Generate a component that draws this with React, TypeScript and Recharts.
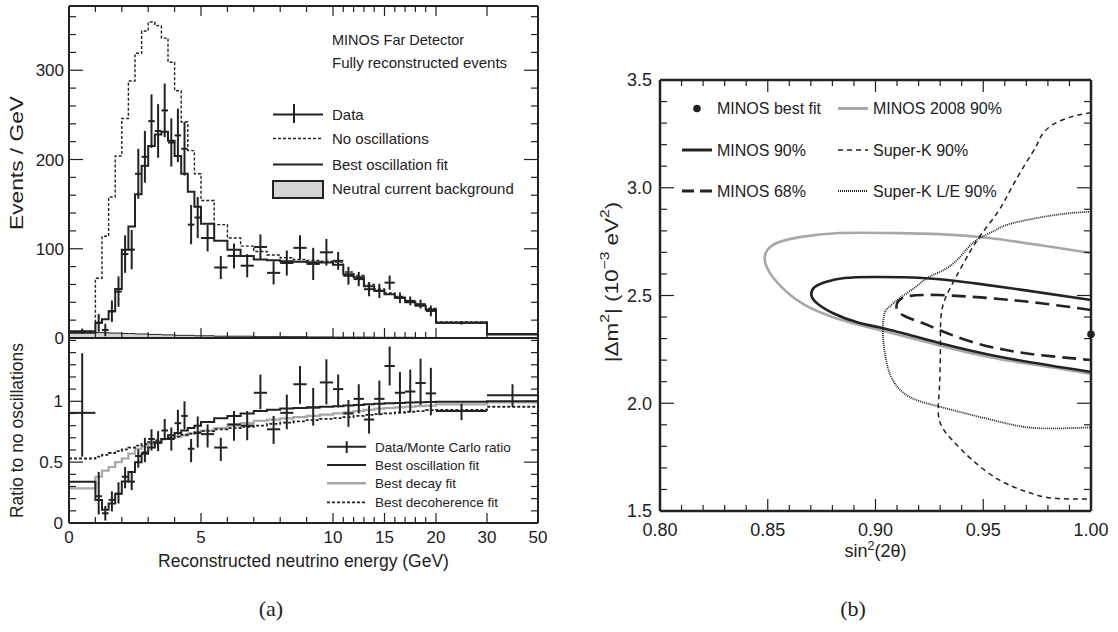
import React from 'react';
import { ComposedChart, Line, Area, Scatter, XAxis, YAxis, ErrorBar, Legend, Label } from 'recharts';

const INK = '#222';
const GREY = '#a8a8a8';
const SANS = '"Liberation Sans", Arial, Helvetica, sans-serif';
const SERIF = '"Liberation Serif", "DejaVu Serif", serif';

// ---------- (a) MINOS far detector spectrum ----------
// bin edges in GeV
const binEdges = [0, 1, 1.25, 1.5, 1.75, 2, 2.25, 2.5, 2.75, 3, 3.25, 3.5, 3.75, 4, 4.25, 4.5, 4.75, 5, 5.5, 6, 6.5, 7, 7.5, 8, 8.5, 9, 9.5, 10, 11, 12, 13, 14, 15, 16, 17, 18, 19, 20, 30, 50];

// events / GeV, one value per bin
const noOscRate = [7.5, 67, 114, 158, 204, 246, 288, 319, 344, 354, 350, 336, 309, 277, 242, 210, 184, 154, 127, 112, 103, 97, 93, 90, 88, 87, 86, 85, 74, 70, 60, 55, 50.5, 46.5, 41, 37.5, 33, 18, 4.5];
const bestFitRate = [6, 17, 21, 30, 55, 99, 125, 161, 193, 215, 228, 231, 221, 204, 184, 164, 147, 128, 109, 99, 92, 88, 87, 86, 85.5, 85, 84.5, 82, 71.5, 68, 58, 53, 49, 45, 40, 36, 32, 17, 4];
const ncRate = [7, 6, 6, 5.5, 5.5, 5, 5, 4.5, 4.5, 4, 4, 3.5, 3.5, 3, 3, 3, 2.5, 2.5, 2, 2, 2, 1.5, 1.5, 1.5, 1.5, 1.2, 1.2, 1, 1, 1, 1, 0.8, 0.8, 0.8, 0.8, 0.6, 0.6, 0.5, 0.3];
const dataRate = [7.5, 17, 9, 30, 52, 94, 99, 184, 203, 243, 232, 255, 219, 227, 212, 127, 135, 112, 79, 92, 81, 102, 73, 84, 101, 83, 96, 86.5, 69.7, 66, 54.7, 52.8, 62, 45, 41.6, 37.9, 30.3, 17, 4.5];
const dataRateErr = [3, 10, 7, 12, 17, 21, 22, 28, 29, 30, 30, 30, 27, 30, 30, 22, 23, 15, 13, 14, 13, 14, 13, 14, 14, 18, 15, 10, 10, 8, 8, 8, 8, 6, 5, 5, 6, 2, 1];

// ratio to no oscillations, one value per bin
const ratioData = [0.905, 0.22, 0.08, 0.19, 0.24, 0.38, 0.34, 0.55, 0.58, 0.69, 0.66, 0.76, 0.69, 0.82, 0.88, 0.61, 0.74, 0.73, 0.62, 0.81, 0.8, 1.07, 0.77, 0.905, 1.14, 0.95, 1.155, 1.1, 0.9, 1.02, 0.85, 1.02, 1.29, 1.07, 1.08, 1.15, 1.065, 0.92, 1.05];
const ratioErrLo = [0.36, 0.15, 0.06, 0.095, 0.08, 0.095, 0.07, 0.095, 0.08, 0.095, 0.07, 0.08, 0.095, 0.095, 0.11, 0.11, 0.12, 0.11, 0.11, 0.135, 0.12, 0.135, 0.12, 0.135, 0.16, 0.15, 0.18, 0.15, 0.11, 0.12, 0.115, 0.135, 0.16, 0.17, 0.17, 0.18, 0.18, 0.075, 0.095];
const ratioErrHi = [0.49, 0.2, 0.06, 0.07, 0.095, 0.08, 0.08, 0.055, 0.12, 0.08, 0.095, 0.095, 0.095, 0.11, 0.12, 0.08, 0.135, 0.08, 0.08, 0.11, 0.12, 0.15, 0.11, 0.15, 0.15, 0.16, 0.19, 0.12, 0.11, 0.12, 0.115, 0.15, 0.16, 0.17, 0.18, 0.2, 0.21, 0.06, 0.09];
const oscRatio = [0.338, 0.19, 0.108, 0.16, 0.24, 0.34, 0.42, 0.5, 0.57, 0.62, 0.66, 0.69, 0.72, 0.74, 0.76, 0.78, 0.8, 0.83, 0.86, 0.88, 0.9, 0.92, 0.93, 0.94, 0.945, 0.95, 0.955, 0.96, 0.965, 0.97, 0.975, 0.98, 0.983, 0.986, 0.99, 0.992, 0.995, 0.997, 1.0];
const decayRatio = [0.284, 0.38, 0.43, 0.46, 0.5, 0.53, 0.57, 0.61, 0.63, 0.65, 0.67, 0.69, 0.7, 0.71, 0.72, 0.735, 0.745, 0.76, 0.78, 0.8, 0.82, 0.84, 0.85, 0.86, 0.87, 0.88, 0.89, 0.9, 0.91, 0.92, 0.93, 0.94, 0.945, 0.95, 0.955, 0.96, 0.965, 0.975, 0.99];
const decoRatio = [0.53, 0.545, 0.56, 0.575, 0.59, 0.605, 0.62, 0.635, 0.65, 0.665, 0.68, 0.69, 0.7, 0.71, 0.725, 0.735, 0.745, 0.755, 0.77, 0.78, 0.79, 0.8, 0.815, 0.825, 0.835, 0.845, 0.855, 0.862, 0.87, 0.88, 0.888, 0.895, 0.9, 0.908, 0.914, 0.92, 0.927, 0.93, 0.955];

const eTicks = [0, 5, 10, 15, 20, 30, 50];
const eMinor = [1, 2, 3, 4, 6, 7, 8, 9, 11, 12, 13, 14, 16, 17, 18, 19];
const rateTicks = [0, 100, 200, 300];
const rateMinor = [20, 40, 60, 80, 120, 140, 160, 180, 220, 240, 260, 280, 320, 340, 360];
const ratioTicks = [0, 0.5, 1];
const ratioMinor = [0.1, 0.2, 0.3, 0.4, 0.6, 0.7, 0.8, 0.9, 1.1, 1.2, 1.3, 1.4, 1.5];

// ---------- (b) allowed regions ----------
const sinTicks = [0.8, 0.85, 0.9, 0.95, 1.0];
const sinMinor = [0.81, 0.82, 0.83, 0.84, 0.86, 0.87, 0.88, 0.89, 0.91, 0.92, 0.93, 0.94, 0.96, 0.97, 0.98, 0.99];
const dmTicks = [1.5, 2.0, 2.5, 3.0, 3.5];
const dmMinor = [1.6, 1.7, 1.8, 1.9, 2.1, 2.2, 2.3, 2.4, 2.6, 2.7, 2.8, 2.9, 3.1, 3.2, 3.3, 3.4];

// [sin^2(2theta), |dm^2| in 1e-3 eV^2]
const minos2008 = [[1.0, 2.697], [0.9759, 2.734], [0.9528, 2.767], [0.9296, 2.785], [0.9065, 2.79], [0.8833, 2.79], [0.8648, 2.771], [0.8523, 2.734], [0.8486, 2.665], [0.8523, 2.586], [0.8588, 2.516], [0.8671, 2.456], [0.8787, 2.405], [0.8926, 2.363], [0.9111, 2.317], [0.9343, 2.256], [0.9574, 2.205], [0.9806, 2.168], [1.0, 2.136]];
const minos90 = [[1.0, 2.479], [0.9681, 2.526], [0.9449, 2.558], [0.9218, 2.581], [0.8986, 2.586], [0.8856, 2.581], [0.8772, 2.564], [0.8718, 2.539], [0.8702, 2.51], [0.8718, 2.474], [0.8801, 2.419], [0.8926, 2.372], [0.9032, 2.349], [0.9296, 2.28], [0.9606, 2.21], [1.0, 2.145]];
const minos68 = [[1.0, 2.433], [0.9759, 2.465], [0.9528, 2.488], [0.9296, 2.502], [0.9157, 2.498], [0.9111, 2.479], [0.9097, 2.451], [0.9125, 2.41], [0.9218, 2.372], [0.9296, 2.34], [0.9449, 2.284], [0.9606, 2.247], [0.9759, 2.224], [1.0, 2.201]];
const superK90 = [[1.0, 3.348], [0.9912, 3.33], [0.9819, 3.291], [0.9767, 3.237], [0.9744, 3.19], [0.9698, 3.115], [0.9634, 3.005], [0.9574, 2.897], [0.9495, 2.79], [0.9435, 2.697], [0.9374, 2.587], [0.9327, 2.494], [0.9304, 2.402], [0.9301, 2.247], [0.9296, 2.061], [0.9296, 1.922], [0.9356, 1.829], [0.9449, 1.737], [0.9574, 1.644], [0.9699, 1.59], [0.9819, 1.56], [1.0, 1.556]];
const superKLE = [[1.0, 2.889], [0.9836, 2.874], [0.9634, 2.835], [0.9559, 2.804], [0.9481, 2.765], [0.942, 2.711], [0.9343, 2.634], [0.925, 2.587], [0.9188, 2.541], [0.9111, 2.487], [0.9065, 2.448], [0.9042, 2.417], [0.9034, 2.324], [0.9049, 2.201], [0.908, 2.108], [0.9157, 2.03], [0.9296, 1.984], [0.945, 1.945], [0.9605, 1.907], [0.9759, 1.884], [1.0, 1.888]];
const bestFit = [[1.0, 2.32]];

// energy axis is stretched piecewise (0-10, 10-20, 20-30, 30-50 GeV)
const E_KNOTS = [0, 10, 20, 30, 50];
const U_KNOTS = [0, 264, 367, 418, 469];
const toU = (e: number) => {
  for (let k = 1; k < E_KNOTS.length; k++) {
    if (e <= E_KNOTS[k]) {
      const t = (e - E_KNOTS[k - 1]) / (E_KNOTS[k] - E_KNOTS[k - 1]);
      return U_KNOTS[k - 1] + t * (U_KNOTS[k] - U_KNOTS[k - 1]);
    }
  }
  return U_KNOTS[U_KNOTS.length - 1];
};
const uTicks = eTicks.map(toU);
const eLabel = (u: number) => {
  const i = uTicks.findIndex((t) => Math.abs(t - u) < 0.01);
  return i >= 0 ? String(eTicks[i]) : '';
};

const histRows = binEdges.map((e, i) => {
  const k = Math.min(i, noOscRate.length - 1);
  return {
    u: toU(e), noOsc: noOscRate[k], fit: bestFitRate[k], nc: ncRate[k],
    osc: oscRatio[k], decay: decayRatio[k], deco: decoRatio[k],
  };
});
const binCentre = (i: number) => {
  const a = toU(binEdges[i]);
  const b = toU(binEdges[i + 1]);
  return { u: (a + b) / 2, ex: (b - a) / 2 };
};
const ratePts = dataRate.map((v, i) => ({ ...binCentre(i), v, ey: dataRateErr[i] }));
const ratioPts = ratioData.map((v, i) => ({ ...binCentre(i), v, ey: [ratioErrLo[i], ratioErrHi[i]] }));
const pts = (c: number[][]) => c.map(([s, d]) => ({ s, d }));

type Side = 'bottom' | 'top' | 'left' | 'right';

// ticks drawn inward, labels outside
const inTick = (side: Side, len: number, fmt?: (v: number) => string, fs = 17, gap = 0) => (p: any) => {
  const x = Number(p.x);
  const y = Number(p.y);
  const v = p.payload?.value;
  const dx = side === 'left' ? len : side === 'right' ? -len : 0;
  const dy = side === 'bottom' ? -len : side === 'top' ? len : 0;
  let label = null;
  if (fmt && side === 'bottom') {
    label = <text x={x} y={y + gap} textAnchor="middle" fontSize={fs} fill={INK}>{fmt(v)}</text>;
  } else if (fmt && side === 'left') {
    label = <text x={x - gap} y={y} dy="0.36em" textAnchor="end" fontSize={fs} fill={INK}>{fmt(v)}</text>;
  }
  return (
    <g>
      <line x1={x} y1={y} x2={x + dx} y2={y + dy} stroke={INK} strokeWidth={1.2} />
      {label}
    </g>
  );
};

const yTitle = (content: React.ReactNode, dx: number, dy: number, fs: number, stretch = 1) => (p: any) => {
  const vb = p.viewBox || { x: 0, y: 0, width: 0, height: 0 };
  const cx = vb.x + dx;
  const cy = vb.y + vb.height / 2 + dy;
  return (
    <text x={cx} y={cy} fontSize={fs} fill={INK} textAnchor="middle" dominantBaseline="central"
      transform={`rotate(-90 ${cx} ${cy}) translate(${cx} ${cy}) scale(${stretch} 1) translate(${-cx} ${-cy})`}>
      {content}
    </text>
  );
};
const xTitle = (content: React.ReactNode, dy: number, fs: number) => (p: any) => {
  const vb = p.viewBox || { x: 0, y: 0, width: 0, height: 0 };
  return <text x={vb.x + vb.width / 2} y={vb.y + dy} fontSize={fs} fill={INK} textAnchor="middle">{content}</text>;
};

type Box = {
  xKey: string; xDomain: [number, number]; xMajor: number[]; xMinor: number[];
  yDomain: [number, number]; yMajor: number[]; yMinor: number[];
  xLen: [number, number]; yLen: [number, number]; frame: number;
  xFmt?: (v: number) => string; yFmt?: (v: number) => string;
  xGap?: number; yGap?: number; fs?: number; top?: boolean;
  xTitle?: React.ReactNode; yTitle?: React.ReactNode;
};

// axes are 1px thick boxes (recharts skips zero-size axes); minor ticks get their own axis
function boxAxes(b: Box) {
  const base = { type: 'number' as const, tickSize: 0, tickMargin: 0, tickLine: false, interval: 0 as const };
  const frame = { stroke: INK, strokeWidth: b.frame };
  const xs = { ...base, dataKey: b.xKey, domain: b.xDomain, height: 1 };
  const ys = { ...base, domain: b.yDomain, width: 1 };
  const out = [
    <XAxis key="xb" xAxisId="b" {...xs} ticks={b.xMajor} axisLine={frame} tick={inTick('bottom', b.xLen[0], b.xFmt, b.fs, b.xGap)}>{b.xTitle}</XAxis>,
    <XAxis key="xbm" xAxisId="bm" {...xs} ticks={b.xMinor} axisLine={false} allowDataOverflow tick={inTick('bottom', b.xLen[1] + 1)} />,
    <YAxis key="yl" yAxisId="l" {...ys} ticks={b.yMajor} axisLine={frame} tick={inTick('left', b.yLen[0], b.yFmt, b.fs, b.yGap)}>{b.yTitle}</YAxis>,
    <YAxis key="ylm" yAxisId="lm" {...ys} ticks={b.yMinor} axisLine={false} allowDataOverflow tick={inTick('left', b.yLen[1] + 1)} />,
    <YAxis key="yr" yAxisId="r" orientation="right" {...ys} ticks={b.yMajor} axisLine={frame} allowDataOverflow tick={inTick('right', b.yLen[0])} />,
    <YAxis key="yrm" yAxisId="rm" orientation="right" {...ys} ticks={b.yMinor} axisLine={false} allowDataOverflow tick={inTick('right', b.yLen[1] + 1)} />,
  ];
  if (b.top) {
    out.push(
      <XAxis key="xt" xAxisId="t" orientation="top" {...xs} ticks={b.xMajor} axisLine={frame} allowDataOverflow tick={inTick('top', b.xLen[0])} />,
      <XAxis key="xtm" xAxisId="tm" orientation="top" {...xs} ticks={b.xMinor} axisLine={false} allowDataOverflow tick={inTick('top', b.xLen[1] + 1)} />,
    );
  }
  return out;
}

const noShape = () => <g />;

// ---------- legends ----------
const SpectrumLegend = () => (
  <svg width={290} height={190} style={{ overflow: 'visible', fontFamily: SANS }}>
    <text x={72} y={25} fontSize={14.5} fill={INK}>MINOS Far Detector</text>
    <text x={72} y={48} fontSize={15} fill={INK}>Fully reconstructed events</text>
    <line x1={13} y1={94.5} x2={63} y2={94.5} stroke={INK} strokeWidth={2} />
    <line x1={34} y1={84} x2={34} y2={103} stroke={INK} strokeWidth={2} />
    <text x={72} y={100} fontSize={15} fill={INK}>Data</text>
    <line x1={13} y1={118.5} x2={63} y2={118.5} stroke={INK} strokeWidth={1.4} strokeDasharray="3 2" />
    <text x={72} y={124} fontSize={15} fill={INK}>No oscillations</text>
    <line x1={13} y1={144.5} x2={63} y2={144.5} stroke={INK} strokeWidth={2} />
    <text x={72} y={150} fontSize={15} fill={INK}>Best oscillation fit</text>
    <rect x={13} y={161} width={50} height={17} fill="#d4d4d4" stroke={INK} strokeWidth={2} />
    <text x={72} y={174} fontSize={15} fill={INK}>Neutral current background</text>
  </svg>
);

const RatioLegend = () => (
  <svg width={220} height={85} style={{ overflow: 'visible', fontFamily: SANS }}>
    <line x1={17} y1={16.7} x2={56} y2={16.7} stroke={INK} strokeWidth={2} />
    <line x1={36.7} y1={11.2} x2={36.7} y2={23} stroke={INK} strokeWidth={2} />
    <text x={65} y={21.5} fontSize={13.5} fill={INK}>Data/Monte Carlo ratio</text>
    <line x1={17} y1={35} x2={56} y2={35} stroke={INK} strokeWidth={2} />
    <text x={65} y={39.8} fontSize={13.5} fill={INK}>Best oscillation fit</text>
    <line x1={17} y1={53.3} x2={56} y2={53.3} stroke={GREY} strokeWidth={2.5} />
    <text x={65} y={58.1} fontSize={13.5} fill={INK}>Best decay fit</text>
    <line x1={17} y1={72.3} x2={56} y2={72.3} stroke={INK} strokeWidth={1.8} strokeDasharray="3 2" />
    <text x={65} y={77.1} fontSize={13.5} fill={INK}>Best decoherence fit</text>
  </svg>
);

const ContourLegend = () => (
  <svg width={360} height={120} style={{ overflow: 'visible', fontFamily: SANS }}>
    <circle cx={27} cy={18.5} r={3.8} fill={INK} />
    <text x={47} y={24.2} fontSize={16} fill={INK}>MINOS best fit</text>
    <line x1={12} y1={60} x2={42} y2={60} stroke={INK} strokeWidth={3} />
    <text x={47} y={65.7} fontSize={16} fill={INK}>MINOS 90%</text>
    <line x1={12} y1={101} x2={42} y2={101} stroke={INK} strokeWidth={3} strokeDasharray="12 6" />
    <text x={47} y={106.7} fontSize={16} fill={INK}>MINOS 68%</text>
    <line x1={168} y1={18.5} x2={198} y2={18.5} stroke={GREY} strokeWidth={3} />
    <text x={203} y={24.2} fontSize={16} fill={INK}>MINOS 2008 90%</text>
    <line x1={168} y1={60} x2={198} y2={60} stroke={INK} strokeWidth={1.5} strokeDasharray="5 4" />
    <text x={203} y={65.7} fontSize={16} fill={INK}>Super-K 90%</text>
    <line x1={168} y1={101} x2={198} y2={101} stroke={INK} strokeWidth={1.8} strokeDasharray="1 1" />
    <text x={203} y={106.7} fontSize={16} fill={INK}>Super-K L/E 90%</text>
  </svg>
);

const legendPos = { layout: 'vertical' as const, align: 'center' as const, verticalAlign: 'middle' as const };

function SpectrumPanel() {
  return (
    <ComposedChart width={560} height={352} margin={{ top: 4, right: 20, bottom: 12, left: 67 }}>
      {boxAxes({
        xKey: 'u', xDomain: [0, 469], xMajor: uTicks, xMinor: eMinor.map(toU),
        yDomain: [0, 372], yMajor: rateTicks, yMinor: rateMinor,
        xLen: [10, 6], yLen: [14, 7], frame: 2, yFmt: (v) => String(v), yGap: 5, fs: 17, top: true,
        yTitle: <Label content={yTitle('Events / GeV', -51, -9, 17.5, 1.3)} />,
      })}
      <Area xAxisId="b" yAxisId="l" data={histRows} dataKey="nc" type="stepAfter" fill="#d4d4d4" fillOpacity={1} stroke={INK} strokeWidth={1} isAnimationActive={false} />
      <Line xAxisId="b" yAxisId="l" data={histRows} dataKey="noOsc" type="stepAfter" stroke={INK} strokeWidth={1.4} strokeDasharray="3 2" dot={false} isAnimationActive={false} />
      <Line xAxisId="b" yAxisId="l" data={histRows} dataKey="fit" type="stepAfter" stroke={INK} strokeWidth={2} dot={false} isAnimationActive={false} />
      <Scatter xAxisId="b" yAxisId="l" data={ratePts} dataKey="v" shape={noShape} isAnimationActive={false}>
        <ErrorBar dataKey="ey" direction="y" width={0} stroke={INK} strokeWidth={2} isAnimationActive={false} />
        <ErrorBar dataKey="ex" direction="x" width={0} stroke={INK} strokeWidth={2} isAnimationActive={false} />
      </Scatter>
      <Legend {...legendPos} wrapperStyle={{ left: 260, top: 20, width: 290, height: 190 }} content={SpectrumLegend} />
    </ComposedChart>
  );
}

function RatioPanel() {
  return (
    <ComposedChart width={560} height={250} margin={{ top: 8, right: 20, bottom: 55, left: 67 }}>
      {boxAxes({
        xKey: 'u', xDomain: [0, 469], xMajor: uTicks, xMinor: eMinor.map(toU),
        yDomain: [0, 1.52], yMajor: ratioTicks, yMinor: ratioMinor,
        xLen: [10, 6], yLen: [14, 7], frame: 2, xFmt: eLabel, yFmt: (v) => String(v), xGap: 20, yGap: 6, fs: 17,
        xTitle: <Label content={xTitle('Reconstructed neutrino energy (GeV)', 44, 17.5)} />,
        yTitle: <Label content={yTitle('Ratio to no oscillations', -51, 0, 17.5)} />,
      })}
      <Line xAxisId="b" yAxisId="l" data={histRows} dataKey="decay" type="stepAfter" stroke={GREY} strokeWidth={2.2} dot={false} isAnimationActive={false} />
      <Line xAxisId="b" yAxisId="l" data={histRows} dataKey="deco" type="stepAfter" stroke={INK} strokeWidth={1.8} strokeDasharray="3 2" dot={false} isAnimationActive={false} />
      <Line xAxisId="b" yAxisId="l" data={histRows} dataKey="osc" type="stepAfter" stroke={INK} strokeWidth={2} dot={false} isAnimationActive={false} />
      <Scatter xAxisId="b" yAxisId="l" data={ratioPts} dataKey="v" shape={noShape} isAnimationActive={false}>
        <ErrorBar dataKey="ey" direction="y" width={0} stroke={INK} strokeWidth={2} isAnimationActive={false} />
        <ErrorBar dataKey="ex" direction="x" width={0} stroke={INK} strokeWidth={2} isAnimationActive={false} />
      </Scatter>
      <Legend {...legendPos} wrapperStyle={{ left: 310, top: 100, width: 220, height: 85 }} content={RatioLegend} />
    </ComposedChart>
  );
}

const sup = (t: string) => <tspan dy={-7} fontSize={12.5}>{t}</tspan>;

function ContourPanel() {
  return (
    <ComposedChart width={528} height={510} margin={{ top: 18, right: 25, bottom: 57, left: 68 }}>
      {boxAxes({
        xKey: 's', xDomain: [0.8, 1.0], xMajor: sinTicks, xMinor: sinMinor,
        yDomain: [1.5, 3.5], yMajor: dmTicks, yMinor: dmMinor,
        xLen: [12, 6], yLen: [14, 7], frame: 2.5, xFmt: (v) => v.toFixed(2), yFmt: (v) => v.toFixed(1),
        xGap: 25, yGap: 8, fs: 18, top: true,
        xTitle: <Label content={xTitle(<>sin{sup('2')}<tspan dy={7}>(2θ)</tspan></>, 46, 18)} />,
        yTitle: <Label content={yTitle(<>|Δm{sup('2')}<tspan dy={7}>| (10</tspan>{sup('−3')}<tspan dy={7}> eV</tspan>{sup('2')}<tspan dy={7}>)</tspan></>, -47, -13.5, 18, 1.25)} />,
      })}
      <Line xAxisId="b" yAxisId="l" data={pts(minos2008)} dataKey="d" type="natural" stroke={GREY} strokeWidth={2.6} dot={false} isAnimationActive={false} />
      <Line xAxisId="b" yAxisId="l" data={pts(superKLE)} dataKey="d" type="natural" stroke={INK} strokeWidth={1.8} strokeDasharray="1 1" dot={false} isAnimationActive={false} />
      <Line xAxisId="b" yAxisId="l" data={pts(superK90)} dataKey="d" type="natural" stroke={INK} strokeWidth={1.5} strokeDasharray="5 4" dot={false} isAnimationActive={false} />
      <Line xAxisId="b" yAxisId="l" data={pts(minos90)} dataKey="d" type="natural" stroke={INK} strokeWidth={2.6} dot={false} isAnimationActive={false} />
      <Line xAxisId="b" yAxisId="l" data={pts(minos68)} dataKey="d" type="natural" stroke={INK} strokeWidth={2.6} strokeDasharray="14 7" dot={false} isAnimationActive={false} />
      <Scatter xAxisId="b" yAxisId="l" data={pts(bestFit)} dataKey="d" isAnimationActive={false}
        shape={(p: any) => <circle cx={p.cx} cy={p.cy} r={3.8} fill={INK} />} />
      <Legend {...legendPos} wrapperStyle={{ left: 80, top: 30, width: 360, height: 120 }} content={ContourLegend} />
    </ComposedChart>
  );
}

export default function App() {
  return (
    <div style={{ position: 'absolute', left: 0, top: 0, width: 1118, height: 632, background: '#fff', fontFamily: SANS, color: INK, overflow: 'hidden' }}>
      <div style={{ position: 'absolute', left: 0, top: 0 }}><SpectrumPanel /></div>
      <div style={{ position: 'absolute', left: 0, top: 330 }}><RatioPanel /></div>
      <div style={{ position: 'absolute', left: 590, top: 60 }}><ContourPanel /></div>
      <div style={{ position: 'absolute', left: 231, top: 594, width: 80, textAlign: 'center', fontFamily: SERIF, fontSize: 22, lineHeight: '30px' }}>(a)</div>
      <div style={{ position: 'absolute', left: 813, top: 594, width: 80, textAlign: 'center', fontFamily: SERIF, fontSize: 22, lineHeight: '30px' }}>(b)</div>
    </div>
  );
}
